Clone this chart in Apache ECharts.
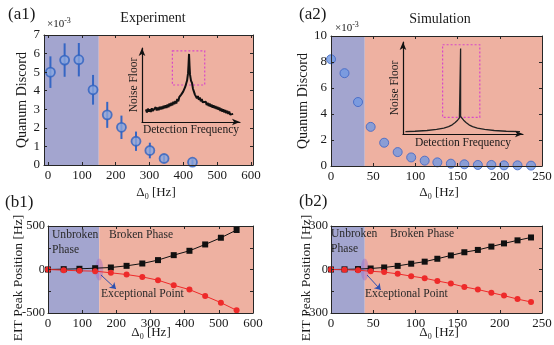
<!DOCTYPE html>
<html><head><meta charset="utf-8">
<script src="https://cdn.jsdelivr.net/npm/echarts@6/dist/echarts.min.js"></script>
<style>html,body{margin:0;padding:0;background:#fff}#c{width:554px;height:345px}</style>
</head><body><div id="c"></div>
<script>
// ---------- data ----------
const a1X = [7, 49, 91, 133, 175, 217, 260, 301, 343, 427];
const a1Y = [5.0, 5.65, 5.67, 4.05, 2.7, 2.03, 1.28, 0.78, 0.35, 0.15];
const a1Err = [0.85, 0.9, 0.9, 0.8, 0.7, 0.63, 0.52, 0.42, 0.17, 0.15];

const a2X = [0, 16, 32, 47, 63, 79, 95, 111, 126, 142, 158, 174, 190, 205, 221, 237];
const a2Y = [8.21, 7.14, 4.92, 3.01, 1.79, 1.07, 0.66, 0.41, 0.28, 0.18, 0.13, 0.08, 0.08, 0.05, 0.05, 0.03];

const b1X = [0, 46, 92, 138, 184, 230, 276, 322, 368, 414, 460, 506, 552];
const b1Up = [0, 4, 8, 15, 23, 42, 69, 108, 165, 215, 288, 365, 454];
const b1Down = [0, -8, -15, -19, -38, -58, -85, -123, -181, -231, -304, -381, -469];

const b2X = [0, 16, 32, 47, 63, 79, 95, 111, 126, 142, 158, 174, 190, 205, 221, 237];
const b2Up = [0, 1, 3, 7, 14, 25, 40, 54, 74, 97, 119, 135, 158, 180, 201, 221];
const b2Down = [0, -2, -5, -12, -18, -30, -46, -60, -79, -97, -120, -138, -160, -180, -204, -224];

// phase boundaries (exceptional points)
const epExp = 150;
const epSim = 40;

// inset curves (arbitrary units 0..100)
const ins1X = [4,5,6,7,8,9,10,11,12,13,14,15,16,17,18,19,20,21,22,23,24,25,26,27,28,29,30,31,32,33,34,35,36,37,38,39,40,41,42,43,44,45,46,47,47.5,48,48.5,49,50,51,52,53,54,55,56,57,58,59,60,61,62,63,64,65,66,67,68,69,70,71,72,73,74,75,76,77,78,79,80,81,82,83,84,85,86,87,88,89,90,91,92,93];
const ins1Y = [17,13,18,14,17,13.5,18.5,15,17.5,14.5,20,15.5,19.5,16,20.5,17,21,17.5,22,18.5,22.5,19,23.5,20,25,21.5,26,22.5,27.5,24,28.5,25,31,28,33.5,31,37,34.5,41,42,47,49,56,66,78,92,76,64,56,53,45,41,37,36,32,35,30,33,28,31,26.5,29,24.5,27.5,23,26,21.5,25,20.5,23.5,19.5,22.5,18.5,21.5,17.5,20.5,16.5,19.5,15,18,14,17,13,16,12,15,11,14,10,12.5,8.5,11];
const ins1Box = [[31, 96], [64, 50]];
const ins2X = [2,10,20,28,34,38,41,43.5,45.5,47,48,48,48,49,50.5,52.5,55,58,62,68,76,86,97.5];
const ins2Y = [2.5,3,3.8,5,6.5,8,10,12.5,15,17.5,19,93,19,17.5,15,12.5,10,8,6.5,5,3.8,3,2.5];
const ins2Box = [[33, 97], [64, 18]];

// ticks
const expXTicks = [0, 100, 200, 300, 400, 500, 600];
const simXTicks = [0, 50, 100, 150, 200, 250];
const a1YTicks = [0, 1, 2, 3, 4, 5, 6, 7];
const a2YTicks = [0, 2, 4, 6, 8, 10];
const b1YTicks = [-500, -250, 0, 250, 500];
const b1YLabels = [-500, 0, 500];
const b2YTicks = [-300, -150, 0, 150, 300];
const b2YLabels = [-300, 0, 300];

// ---------- styling ----------
const FONT = '"Liberation Serif", "Times New Roman", serif';
const AX = '#262626';
const BLUE_BG = '#a3a5cf';
const PINK_BG = '#eeb1a1';

const chart = echarts.init(document.getElementById('c'), null, {renderer: 'canvas'});

const grids = [
  {left: 44, top: 35, width: 209, height: 130},
  {left: 331, top: 36, width: 211, height: 130},
  {left: 48, top: 226, width: 205, height: 87},
  {left: 331, top: 226, width: 211, height: 87},
  {left: 142, top: 48, width: 98, height: 74},
  {left: 403, top: 42, width: 120, height: 92}
].map(g => Object.assign({outerBoundsMode: 'none', containLabel: false, show: false}, g));

function ax(gi, min, max, ticks, labels, pos, extra) {
  return Object.assign({
    type: 'value', gridIndex: gi, min: min, max: max, position: pos, z: 6,
    axisLine: {show: true, onZero: false, lineStyle: {color: AX, width: 1}},
    axisTick: {show: true, inside: true, length: 3, customValues: ticks, lineStyle: {color: AX, width: 1}},
    axisLabel: {show: !!labels, customValues: labels || ticks, margin: 4, fontFamily: FONT, fontSize: 13, color: '#1a1a1a'},
    splitLine: {show: false}
  }, extra || {});
}
function yName(name, gap) {
  return {name: name, nameLocation: 'middle', nameGap: gap, nameRotate: 90,
    nameTextStyle: {fontFamily: FONT, fontSize: 14, color: '#1a1a1a'}};
}
function insetAx(gi, dim, name, gap) {
  return {
    type: 'value', gridIndex: gi, min: 0, max: 100, z: 7,
    axisLine: {show: true, onZero: false, symbol: ['none', 'arrow'], symbolSize: [5, 8], lineStyle: {color: '#111', width: 1.2}},
    axisTick: {show: false}, axisLabel: {show: false}, splitLine: {show: false},
    name: name, nameLocation: 'middle', nameGap: gap, nameRotate: dim === 'y' ? 90 : 0,
    nameTextStyle: {fontFamily: FONT, fontSize: 11.5, color: '#1a1a1a'}
  };
}

const xAxis = [
  ax(0, -12, 606, expXTicks, expXTicks, 'bottom'),
  ax(1, 0, 250, simXTicks, simXTicks, 'bottom'),
  ax(2, 0, 600, expXTicks, expXTicks, 'bottom'),
  ax(3, 0, 250, simXTicks, simXTicks, 'bottom'),
  ax(0, -12, 606, expXTicks, null, 'top'),
  ax(1, 0, 250, simXTicks, null, 'top'),
  ax(2, 0, 600, expXTicks, null, 'top'),
  ax(3, 0, 250, simXTicks, null, 'top'),
  insetAx(4, 'x', 'Detection Frequency', 2),
  insetAx(5, 'x', 'Detection Frequency', 3)
];
const yAxis = [
  ax(0, 0, 7, a1YTicks, a1YTicks, 'left', yName('Quanum Discord', 10)),
  ax(1, 0, 10, a2YTicks, a2YTicks, 'left', yName('Quanum Discord', 7)),
  ax(2, -500, 500, b1YTicks, b1YLabels, 'left', {axisLabel: {customValues: b1YLabels, margin: 3, fontFamily: FONT, fontSize: 12.5, color: '#1a1a1a'}}),
  ax(3, -300, 300, b2YTicks, b2YLabels, 'left', {axisLabel: {customValues: b2YLabels, margin: 3, fontFamily: FONT, fontSize: 12.5, color: '#1a1a1a'}}),
  ax(0, 0, 7, a1YTicks, null, 'right'),
  ax(1, 0, 10, a2YTicks, null, 'right'),
  ax(2, -500, 500, b1YTicks, null, 'right'),
  ax(3, -300, 300, b2YTicks, null, 'right'),
  insetAx(4, 'y', 'Noise Floor', 2),
  insetAx(5, 'y', 'Noise Floor', 2)
];

function bg(gi, min, split, max, ymin) {
  return {
    type: 'scatter', xAxisIndex: gi, yAxisIndex: gi, data: [[split, ymin]], symbolSize: 0, silent: true, z: 1,
    markArea: {silent: true, data: [
      [{xAxis: min, itemStyle: {color: BLUE_BG}}, {xAxis: split}],
      [{xAxis: split, itemStyle: {color: PINK_BG}}, {xAxis: max}]
    ]}
  };
}
function pairs(xs, ys) { return xs.map((x, i) => [x, ys[i]]); }
function branch(gi, xs, ys, color, symbol) {
  return {
    type: 'line', xAxisIndex: gi, yAxisIndex: gi, data: pairs(xs, ys), symbol: symbol, symbolSize: 6,
    itemStyle: {color: color}, lineStyle: {color: color, width: 1}, z: 4, silent: true, animation: false
  };
}
function ep(gi, x, arrowFrom, arrowTo) {
  return {
    type: 'scatter', xAxisIndex: gi, yAxisIndex: gi, data: [[x, 0]], symbol: 'circle', symbolSize: [8, 22],
    itemStyle: {color: 'rgba(165,105,195,0.55)'}, z: 3, silent: true,
    markLine: {silent: true, symbol: ['none', 'arrow'], symbolSize: 6, label: {show: false},
      lineStyle: {color: '#2c4fb0', width: 1, type: 'solid'},
      data: [[{coord: arrowFrom}, {coord: arrowTo}]]}
  };
}
function insetBox(box) {
  return {silent: true, itemStyle: {color: 'rgba(0,0,0,0)', borderColor: '#d848c8', borderWidth: 1.2, borderType: [2, 2]},
    data: [[{coord: box[0]}, {coord: box[1]}]]};
}

const series = [
  bg(0, -12, epExp, 606, 0),
  bg(1, 0, epSim, 250, 0),
  bg(2, 0, epExp, 600, 0),
  bg(3, 0, epSim, 250, 0),
  {
    type: 'custom', xAxisIndex: 0, yAxisIndex: 0, z: 3, silent: true,
    data: a1X.map((x, i) => [x, a1Y[i], a1Err[i]]),
    renderItem: function (params, api) {
      const x = api.value(0), y = api.value(1), e = api.value(2);
      const p1 = api.coord([x, y - e]), p2 = api.coord([x, y + e]);
      return {type: 'line', shape: {x1: p1[0], y1: p1[1], x2: p2[0], y2: p2[1]}, style: {stroke: '#3566c4', lineWidth: 2}};
    }
  },
  {type: 'scatter', xAxisIndex: 0, yAxisIndex: 0, data: pairs(a1X, a1Y), symbolSize: 9, z: 4, silent: true,
    itemStyle: {color: '#8aa6de', borderColor: '#2e62c0', borderWidth: 1.8}},
  {type: 'scatter', xAxisIndex: 1, yAxisIndex: 1, data: pairs(a2X, a2Y), symbolSize: 9, z: 4, silent: true,
    itemStyle: {color: '#7099e2', borderColor: '#3b63c4', borderWidth: 1}},
  branch(2, b1X, b1Up, '#111111', 'rect'),
  branch(2, b1X, b1Down, '#ee2a2a', 'circle'),
  branch(3, b2X, b2Up, '#111111', 'rect'),
  branch(3, b2X, b2Down, '#ee2a2a', 'circle'),
  ep(2, epExp, [155, -63], [199, -224]),
  ep(3, epSim, [42.7, -38], [59, -141]),
  {type: 'line', xAxisIndex: 8, yAxisIndex: 8, data: pairs(ins1X, ins1Y), symbol: 'none', z: 5, silent: true,
    lineStyle: {color: '#111', width: 2}, markArea: insetBox(ins1Box)},
  {type: 'line', xAxisIndex: 9, yAxisIndex: 9, data: pairs(ins2X, ins2Y), symbol: 'none', z: 5, silent: true,
    lineStyle: {color: '#222', width: 1.3}, markArea: insetBox(ins2Box)}
];

function T(text, x, y, size, align, extra, rot) {
  return {type: 'text', x: x, y: y, z: 100, silent: true, rotation: rot || 0,
    style: Object.assign({text: text, fontSize: size, fontFamily: FONT, fill: '#1a1a1a',
      align: align || 'left', verticalAlign: 'middle'}, extra || {})};
}
const deltaRich = {rich: {
  d: {fontSize: 13, fontFamily: FONT, fill: '#1a1a1a'},
  s: {fontSize: 8, fontFamily: FONT, fill: '#1a1a1a', padding: [7, 0, 0, 0]}
}};
const expRich = {rich: {
  m: {fontSize: 11, fontFamily: FONT, fill: '#1a1a1a'},
  p: {fontSize: 8, fontFamily: FONT, fill: '#1a1a1a', padding: [0, 0, 7, 0]}
}};

const graphic = [
  T('(a1)', 8, 15, 17),
  T('Experiment', 153, 18, 14, 'center'),
  T('{m|×10}{p|-3}', 47, 24, 11, 'left', expRich),
  T('(a2)', 299, 15, 17),
  T('Simulation', 440, 19, 14, 'center'),
  T('{m|×10}{p|-3}', 335, 28, 11, 'left', expRich),
  T('(b1)', 5, 203, 17),
  T('(b2)', 299, 202, 17),
  T('EIT Peak Position [Hz]', 18, 278, 13.5, 'center', null, Math.PI / 2),
  T('EIT Peak Position [Hz]', 306, 278, 13.5, 'center', null, Math.PI / 2),
  T('{d|Δ}{s|0}{d| [Hz]}', 156, 193, 13, 'center', deltaRich),
  T('{d|Δ}{s|0}{d| [Hz]}', 439, 193, 13, 'center', deltaRich),
  T('{d|Δ}{s|0}{d| [Hz]}', 151, 333, 13, 'center', deltaRich),
  T('{d|Δ}{s|0}{d| [Hz]}', 439, 333, 13, 'center', deltaRich),
  T('Unbroken', 52, 235, 11.6, 'left', {fill: '#2a2a2a'}),
  T('Phase', 52, 250, 11.6, 'left', {fill: '#2a2a2a'}),
  T('Broken Phase', 109, 235, 11.6, 'left', {fill: '#2a2a2a'}),
  T('Exceptional Point', 101, 294, 11.6, 'left', {fill: '#2a2a2a'}),
  T('Unbroken', 331, 234, 11.6, 'left', {fill: '#2a2a2a'}),
  T('Phase', 331, 249, 11.6, 'left', {fill: '#2a2a2a'}),
  T('Broken Phase', 390, 234, 11.6, 'left', {fill: '#2a2a2a'}),
  T('Exceptional Point', 365, 294, 11.6, 'left', {fill: '#2a2a2a'})
];

chart.setOption({
  animation: false,
  backgroundColor: '#ffffff',
  grid: grids,
  xAxis: xAxis,
  yAxis: yAxis,
  series: series,
  graphic: graphic
});
</script>
</body></html>
